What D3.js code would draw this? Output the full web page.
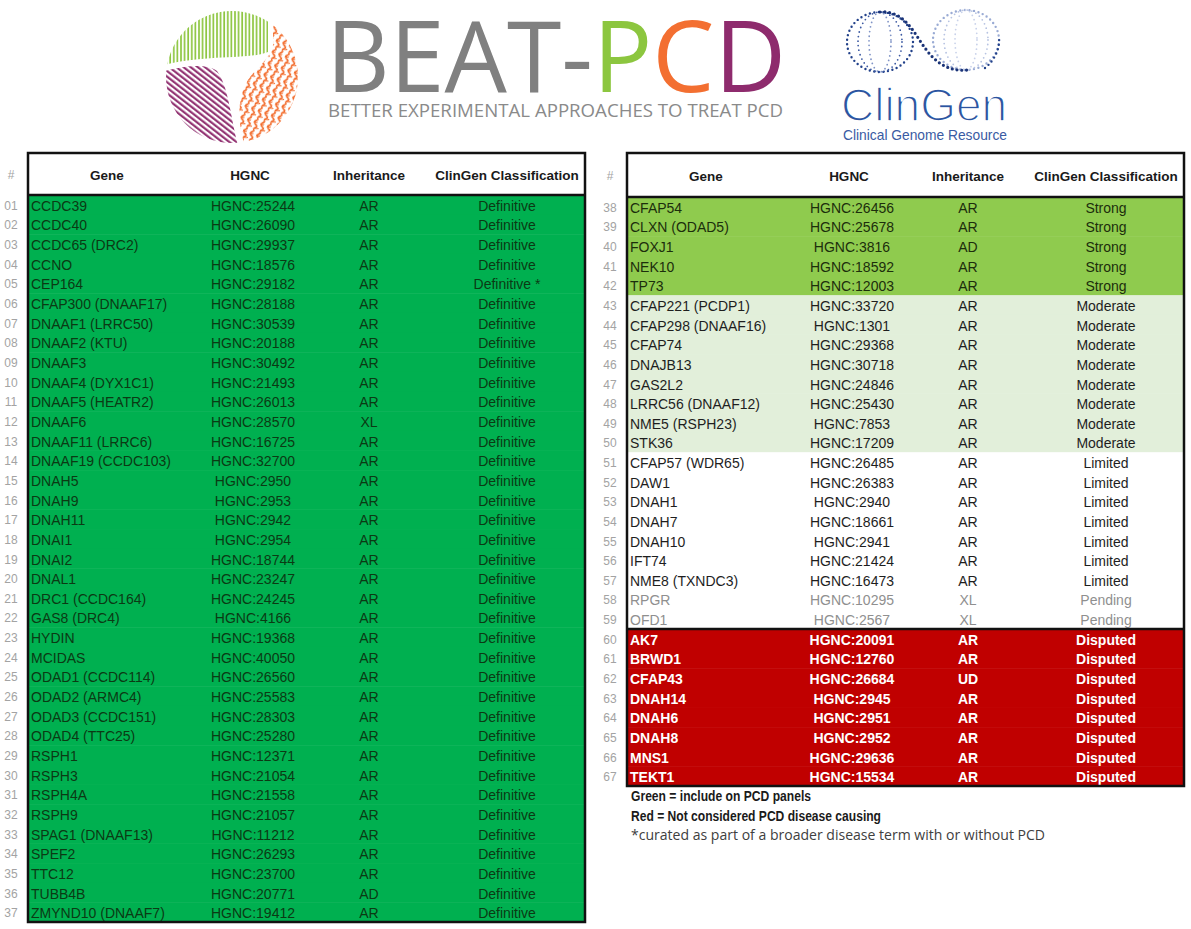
<!DOCTYPE html>
<html>
<head>
<meta charset="utf-8">
<script src="https://cdn.jsdelivr.net/npm/d3@7"></script>
<style>
  body { margin: 0; background: #fff; }
  svg { display: block; }
  .cell { font-family: "Liberation Sans", Arial, sans-serif; font-size: 14px; }
  .head { font-family: "Liberation Sans", Arial, sans-serif; font-size: 13.5px; font-weight: bold; fill: #1a1a1a; }
  .num { font-family: "Liberation Sans", Arial, sans-serif; font-size: 12px; fill: #a3a3a3; }
</style>
</head>
<body>
<svg id="chart" width="1191" height="929"></svg>
<script>
// left table: rows 01-37
const leftGenes = ["CCDC39","CCDC40","CCDC65 (DRC2)","CCNO","CEP164","CFAP300 (DNAAF17)","DNAAF1 (LRRC50)","DNAAF2 (KTU)","DNAAF3","DNAAF4 (DYX1C1)","DNAAF5 (HEATR2)","DNAAF6","DNAAF11 (LRRC6)","DNAAF19 (CCDC103)","DNAH5","DNAH9","DNAH11","DNAI1","DNAI2","DNAL1","DRC1 (CCDC164)","GAS8 (DRC4)","HYDIN","MCIDAS","ODAD1 (CCDC114)","ODAD2 (ARMC4)","ODAD3 (CCDC151)","ODAD4 (TTC25)","RSPH1","RSPH3","RSPH4A","RSPH9","SPAG1 (DNAAF13)","SPEF2","TTC12","TUBB4B","ZMYND10 (DNAAF7)"];
const leftHgnc = ["HGNC:25244","HGNC:26090","HGNC:29937","HGNC:18576","HGNC:29182","HGNC:28188","HGNC:30539","HGNC:20188","HGNC:30492","HGNC:21493","HGNC:26013","HGNC:28570","HGNC:16725","HGNC:32700","HGNC:2950","HGNC:2953","HGNC:2942","HGNC:2954","HGNC:18744","HGNC:23247","HGNC:24245","HGNC:4166","HGNC:19368","HGNC:40050","HGNC:26560","HGNC:25583","HGNC:28303","HGNC:25280","HGNC:12371","HGNC:21054","HGNC:21558","HGNC:21057","HGNC:11212","HGNC:26293","HGNC:23700","HGNC:20771","HGNC:19412"];
const leftInh = ["AR","AR","AR","AR","AR","AR","AR","AR","AR","AR","AR","XL","AR","AR","AR","AR","AR","AR","AR","AR","AR","AR","AR","AR","AR","AR","AR","AR","AR","AR","AR","AR","AR","AR","AR","AD","AR"];
const leftClass = ["Definitive","Definitive","Definitive","Definitive","Definitive *"].concat(Array(32).fill("Definitive"));

// right table: rows 38-67
const rightGenes = ["CFAP54","CLXN (ODAD5)","FOXJ1","NEK10","TP73","CFAP221 (PCDP1)","CFAP298 (DNAAF16)","CFAP74","DNAJB13","GAS2L2","LRRC56 (DNAAF12)","NME5 (RSPH23)","STK36","CFAP57 (WDR65)","DAW1","DNAH1","DNAH7","DNAH10","IFT74","NME8 (TXNDC3)","RPGR","OFD1","AK7","BRWD1","CFAP43","DNAH14","DNAH6","DNAH8","MNS1","TEKT1"];
const rightHgnc = ["HGNC:26456","HGNC:25678","HGNC:3816","HGNC:18592","HGNC:12003","HGNC:33720","HGNC:1301","HGNC:29368","HGNC:30718","HGNC:24846","HGNC:25430","HGNC:7853","HGNC:17209","HGNC:26485","HGNC:26383","HGNC:2940","HGNC:18661","HGNC:2941","HGNC:21424","HGNC:16473","HGNC:10295","HGNC:2567","HGNC:20091","HGNC:12760","HGNC:26684","HGNC:2945","HGNC:2951","HGNC:2952","HGNC:29636","HGNC:15534"];
const rightInh = ["AR","AR","AD","AR","AR","AR","AR","AR","AR","AR","AR","AR","AR","AR","AR","AR","AR","AR","AR","AR","XL","XL","AR","AR","UD","AR","AR","AR","AR","AR"];
const rightClass = ["Strong","Strong","Strong","Strong","Strong",
  "Moderate","Moderate","Moderate","Moderate","Moderate","Moderate","Moderate","Moderate",
  "Limited","Limited","Limited","Limited","Limited","Limited","Limited",
  "Pending","Pending",
  "Disputed","Disputed","Disputed","Disputed","Disputed","Disputed","Disputed","Disputed"];

const headers = ["Gene","HGNC","Inheritance","ClinGen Classification"];
const notes = ["Green = include on PCD panels","Red = Not considered PCD disease causing","*curated as part of a broader disease term with or without PCD"];

// colours per classification
const fillOf = {"Definitive":"#00b050","Definitive *":"#00b050","Strong":"#8fcb4e","Moderate":"#e2efda","Limited":"#ffffff","Pending":"#ffffff","Disputed":"#c00000"};
const inkOf  = {"Definitive":"#0b3a14","Definitive *":"#0b3a14","Strong":"#1c2e0c","Moderate":"#1e1e1e","Limited":"#1e1e1e","Pending":"#8f8f8f","Disputed":"#ffffff"};

const svg = d3.select("#chart");

function drawTable(x0, top, headBottom, bottom, genes, hgnc, inh, cls, firstNum) {
  const g = svg.append("g").attr("transform", "translate(" + x0 + ",0)");
  const rows = genes.map((d, i) => ({num: firstNum + i, gene: d, hgnc: hgnc[i], inh: inh[i], cls: cls[i]}));
  const y = d3.scaleBand().domain(d3.range(rows.length)).range([headBottom, bottom]);

  // header
  g.append("rect").attr("x", 28).attr("y", top).attr("width", 557).attr("height", headBottom - top).attr("fill", "#fff");
  const hx = [107, 250, 369, 507];
  g.selectAll(".head").data(headers).join("text")
    .attr("class", "head")
    .attr("x", (d, i) => hx[i]).attr("y", (top + headBottom) / 2 + 1)
    .attr("text-anchor", "middle").attr("dominant-baseline", "central")
    .text(d => d);
  g.append("text").attr("class", "num").attr("x", 11).attr("y", (top + headBottom) / 2 + 1)
    .attr("text-anchor", "middle").attr("dominant-baseline", "central").attr("fill", "#bbb").text("#");

  // row backgrounds
  g.selectAll(".bg").data(rows).join("rect")
    .attr("class", "bg")
    .attr("x", 28).attr("y", (d, i) => y(i)).attr("width", 557).attr("height", y.bandwidth() + 0.5)
    .attr("fill", d => fillOf[d.cls]);

  const cy = i => y(i) + y.bandwidth() / 2 + 1;
  const row = g.selectAll(".row").data(rows).join("g").attr("class", "row");
  row.append("text").attr("class", "num").attr("x", 11).attr("y", (d, i) => cy(i))
    .attr("text-anchor", "middle").attr("dominant-baseline", "central")
    .text(d => String(d.num).padStart(2, "0"));
  const cols = [["gene", 31, "start"], ["hgnc", 253, "middle"], ["inh", 369, "middle"], ["cls", 507, "middle"]];
  cols.forEach(([key, cx, anchor]) => {
    row.append("text").attr("class", "cell")
      .attr("x", cx).attr("y", (d, i) => cy(i))
      .attr("text-anchor", anchor).attr("dominant-baseline", "central")
      .attr("fill", d => inkOf[d.cls])
      .attr("font-weight", d => d.cls === "Disputed" ? "bold" : "normal")
      .text(d => d[key]);
  });

  // borders
  g.append("rect").attr("x", 28).attr("y", top).attr("width", 557).attr("height", bottom - top)
    .attr("fill", "none").attr("stroke", "#111").attr("stroke-width", 2.5);
  g.append("line").attr("x1", 28).attr("x2", 585).attr("y1", headBottom).attr("y2", headBottom)
    .attr("stroke", "#111").attr("stroke-width", 2.5);
  const firstDisp = rows.findIndex(d => d.cls === "Disputed");
  if (firstDisp > 0) {
    g.append("line").attr("x1", 28).attr("x2", 585).attr("y1", y(firstDisp)).attr("y2", y(firstDisp))
      .attr("stroke", "#111").attr("stroke-width", 2.5);
  }
  return y;
}

drawTable(0, 153, 195, 922, leftGenes, leftHgnc, leftInh, leftClass, 1);
drawTable(599, 153, 197, 786, rightGenes, rightHgnc, rightInh, rightClass, 38);

// notes under right table (narrow font in the original, squeezed to its width)
const noteW = [180, 250, 414];
svg.selectAll(".note").data(notes).join("text")
  .attr("class", "note")
  .attr("x", 631).attr("y", (d, i) => 801 + i * 19.5)
  .attr("font-family", (d, i) => i < 2 ? '"Liberation Sans", Arial, sans-serif' : '"Open Sans", "Liberation Sans", sans-serif')
  .attr("font-size", (d, i) => i < 2 ? 14.5 : 14)
  .attr("font-weight", (d, i) => i < 2 ? "bold" : "normal")
  .attr("fill", (d, i) => i < 2 ? "#1a1a1a" : "#404040")
  .attr("textLength", (d, i) => noteW[i]).attr("lengthAdjust", "spacingAndGlyphs")
  .text(d => d);

// ---- BEAT-PCD logo ----
const defs = svg.append("defs");
const pat = (id, w, h, rot, draw) => {
  const p = defs.append("pattern").attr("id", id).attr("patternUnits", "userSpaceOnUse")
    .attr("width", w).attr("height", h).attr("patternTransform", "rotate(" + rot + ")");
  draw(p);
};
pat("pGreen", 3.6, 10, 0, p => p.append("line").attr("x1", 1).attr("x2", 1).attr("y1", 0).attr("y2", 10)
  .attr("stroke", "#8dc63f").attr("stroke-width", 1.7));
pat("pPurple", 10, 4.4, 38, p => p.append("line").attr("x1", 0).attr("x2", 10).attr("y1", 1.5).attr("y2", 1.5)
  .attr("stroke", "#8e2b6d").attr("stroke-width", 2.1));
pat("pOrange", 12, 7, -70, p => {
  p.append("path").attr("d", "M0,3.5 C3,0 4,7 6,3.5 S9,0 12,3.5").attr("fill", "none").attr("stroke", "#f26b2b").attr("stroke-width", 1.6);
  p.append("path").attr("d", "M2.5,2 L3.5,7 M8.5,0 L9,4").attr("stroke", "#f26b2b").attr("stroke-width", 1.1);
});
defs.append("clipPath").attr("id", "logoClip").append("circle").attr("cx", 232).attr("cy", 77).attr("r", 66);
const logo = svg.append("g").attr("clip-path", "url(#logoClip)");
logo.append("path").attr("d", "M150,0 L268,0 L268,52 C250,60 205,54 160,66 L150,66 Z").attr("fill", "url(#pGreen)");
logo.append("path").attr("d", "M150,75 C180,66 205,62 217,71 C229,88 230,115 239,150 L150,150 Z").attr("fill", "url(#pPurple)");
logo.append("path").attr("d", "M273,10 L273,45 C270,60 255,68 248,80 C238,96 236,120 246,150 L310,150 L310,10 Z").attr("fill", "url(#pOrange)");

const title = svg.append("text").attr("x", 326).attr("y", 92)
  .attr("font-family", '"Open Sans", "Liberation Sans", sans-serif').attr("font-size", 98)
  .attr("textLength", 460).attr("lengthAdjust", "spacingAndGlyphs");
title.append("tspan").attr("fill", "#808080").text("BEAT-");
title.append("tspan").attr("fill", "#8cc63f").text("P");
title.append("tspan").attr("fill", "#f36f31").text("C");
title.append("tspan").attr("fill", "#8e2b6d").text("D");
svg.append("text").attr("x", 328).attr("y", 117)
  .attr("font-family", '"Open Sans", "Liberation Sans", sans-serif').attr("font-size", 19)
  .attr("fill", "#8a8a8a").attr("textLength", 455).attr("lengthAdjust", "spacingAndGlyphs")
  .text("BETTER EXPERIMENTAL APPROACHES TO TREAT PCD");

// ---- ClinGen logo ----
const helix = svg.append("g").attr("fill", "none").attr("stroke-linecap", "round");
const dotted = (sel, w, gap, col) => sel.attr("stroke", col).attr("stroke-width", w).attr("stroke-dasharray", "0," + gap);
[[880, 42, "#22418a", "#3d5aa3"], [966, 40, "#9aabd4", "#b7c3e2"]].forEach(([cx, cy, outer, inner], k) => {
  dotted(helix.append("ellipse").attr("cx", cx).attr("cy", cy).attr("rx", 33).attr("ry", 30), 2.4, 4.6, outer);
  [22, 11].forEach((rx, j) => {
    dotted(helix.append("ellipse").attr("cx", cx).attr("cy", cy).attr("rx", rx).attr("ry", 30), 1.8, 4.6, j === 0 ? inner : (k ? "#c9d2ea" : "#7f93c6"));
  });
});
dotted(helix.append("path").attr("d", "M985,68 C995,60 1000,48 999,38"), 2.4, 4.6, "#22418a");
dotted(helix.append("path").attr("d", "M880,12 C905,10 915,35 925,48 C935,62 948,72 968,70"), 3.2, 4.8, "#1b3478");

// thin the strokes of the wordmark with a white overstroke
svg.append("text").attr("x", 841).attr("y", 121)
  .attr("font-family", '"Liberation Sans", Arial, sans-serif').attr("font-size", 47)
  .attr("fill", "#2b54a0").attr("stroke", "#fff").attr("stroke-width", 1.6)
  .attr("textLength", 166).attr("lengthAdjust", "spacingAndGlyphs")
  .text("ClinGen");
svg.append("text").attr("x", 843).attr("y", 140)
  .attr("font-family", '"Liberation Sans", Arial, sans-serif').attr("font-size", 14.5)
  .attr("fill", "#3a5ba3").attr("textLength", 164).attr("lengthAdjust", "spacingAndGlyphs")
  .text("Clinical Genome Resource");
</script>
</body>
</html>
